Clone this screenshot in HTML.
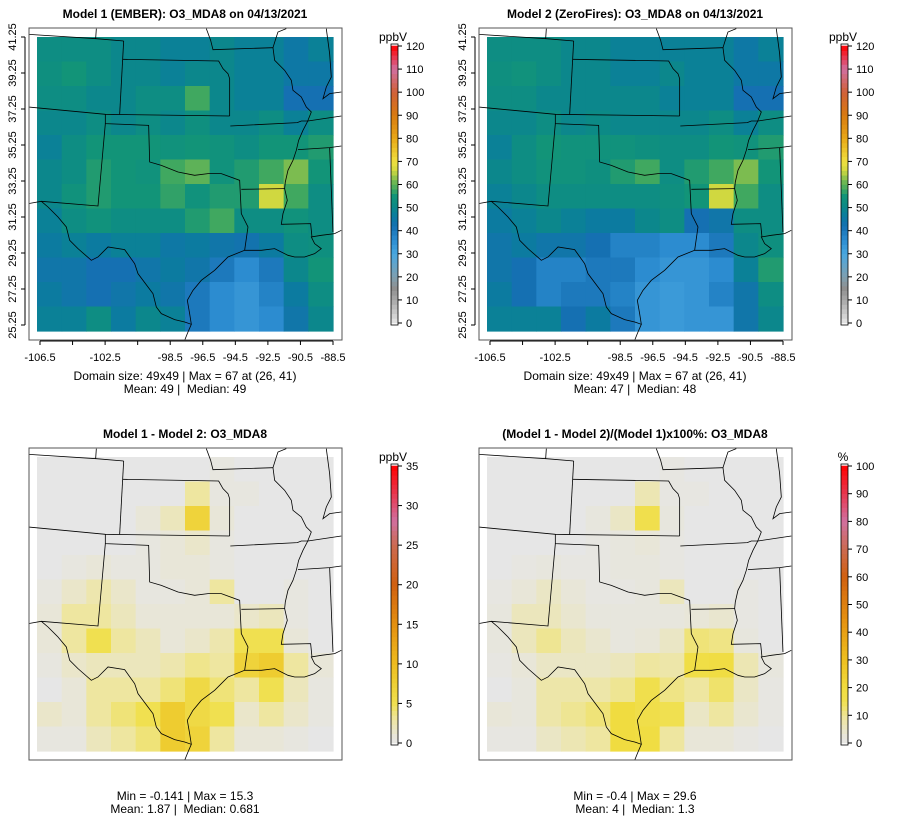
<!DOCTYPE html>
<html><head><meta charset="utf-8"><title>O3_MDA8 comparison</title>
<style>
html,body{margin:0;padding:0;background:#fff;}
svg{display:block;font-family:"Liberation Sans",Arial,sans-serif;}
text{white-space:pre;}
</style></head>
<body>
<svg id="chart" width="900" height="840" viewBox="0 0 900 840" xmlns="http://www.w3.org/2000/svg">
<defs>
<clipPath id="boxclip"><rect x="1" y="1" width="313" height="312"/></clipPath>
<g id="borders" fill="none" stroke="#000" stroke-width="2.4">
<path d="M0,22 L205,35 L287,42 M205,5 L203,35"/>
<path d="M287,42 L275,262"/>
<path d="M285,97 L572,102 L585,125 L600,140 L605,155 L605,267"/>
<path d="M535,5 L548,40 L555,68 L735,62"/>
<path d="M775,5 L750,15 L745,30 L735,62 L740,100 L770,130 L790,160 L795,190 L820,210 L835,240 L850,255 L838,285 L825,310 L812,340 L805,370 L795,400 L780,430 L772,465 L770,485 L778,520 L765,560 L760,592 L848,590 L852,630"/>
<path d="M0,240 L232,262 L605,267"/>
<path d="M232,262 L232,290 L362,295 L365,405 L400,415 L450,435 L500,445 L540,440 L580,440 L635,460 L640,560 L660,600 L650,670"/>
<path d="M232,290 L210,537 L40,523 L0,530"/>
<path d="M607,297 L808,287 L820,282 L840,282 L940,267"/>
<path d="M640,487 L770,485"/>
<path d="M810,368 L905,362 L940,357"/>
<path d="M905,362 L915,615"/>
<path d="M40,523 L60,540 L90,570 L115,600 L125,640 L150,665 L190,700 L210,690 L240,660 L290,668 L320,710 L330,740 L360,780 L375,800 L385,840 L400,860 L440,878 L470,885 L490,892 L478,920 L470,940"/>
<path d="M490,892 L485,860 L478,820 L495,790 L520,760 L560,730 L600,690 L650,670 L700,670 L740,665 L780,685 L800,690 L830,690 L860,680 L880,665 L860,650 L850,630 L880,625 L920,620 L940,610"/>
<path d="M895,5 L905,80 L910,150 L895,180 L885,215 L905,200 L940,195"/>
</g>
</defs>
</svg>
<script>
// ---- data (12 x 12 coarse grids, rows top->bottom, cols west->east) ----
const gridCols = 12;
const gridRows = 12;
const model1Values = [
[52,52,52,50,50,48,48,50,48,48,45,48],
[53,55,52,50,50,48,50,50,48,48,45,45],
[52,52,50,50,52,52,58,50,48,48,42,42],
[50,50,52,50,52,50,53,50,50,52,48,52],
[48,52,55,55,55,54,55,54,52,55,55,56],
[50,52,56,55,54,58,60,54,56,58,62,55],
[50,54,56,55,55,57,54,56,56,66,58,52],
[48,52,54,52,52,52,56,58,52,52,54,52],
[46,48,46,48,48,45,46,44,43,46,52,53],
[44,44,42,42,44,46,44,40,36,40,50,55],
[46,44,42,44,46,44,40,36,34,38,46,52],
[48,48,52,46,50,48,40,36,34,36,44,50]];
const model2Values = [
[52,52,52,50,50,48,48,48,48,48,45,48],
[53,54,52,50,50,48,48,50,48,48,45,45],
[52,52,50,50,50,50,50,48,48,48,42,42],
[50,50,52,50,51,50,50,50,50,52,48,52],
[48,52,55,54,54,54,53,52,52,55,54,56],
[50,52,54,54,53,56,58,52,56,58,62,55],
[48,50,52,52,52,52,52,53,55,66,58,52],
[46,48,50,48,46,46,50,52,42,44,52,52],
[44,46,44,44,42,38,38,36,36,40,50,53],
[44,42,38,38,40,40,36,34,34,36,48,56],
[46,42,38,40,40,38,34,33,34,38,44,52],
[48,48,48,42,46,40,34,33,34,34,44,50]];
const diffValues = [
[0,0,0,0,0,0,0,0.5,0,0,0,0],
[0,0,0,0,0,0,3,0.5,0.5,0,0,0],
[0,0,0,0,1,2,7,1,0,0,0,0],
[0,0,0,0,0.5,1,1.5,0.5,0,0,0,0],
[0,0.5,1,0.5,0.5,1,1,0.5,0,0,0,0],
[0.5,1.5,2.5,1.5,0.5,0.5,1,3,0,0,0.5,0],
[1,3,3,2,1,1,1,1,1.5,2,0.5,0],
[1,3,5,3,2,1,1.5,2.5,5,5,1,0],
[0.5,1.5,2,2,2,2.5,3.5,3,7,8,3,1],
[0,1,3,3,3,4,6,4,3,5,2,0.5],
[1.5,1,3,4,5,8,6,5,1.5,3,1.5,0.5],
[0.5,0.5,2,3,4,8,7,3,1,1,0.5,0]];
const pctValues = [
[0,0,0,0,0,0,0,1,0,0,0,0],
[0,0,0,0,0,0,7,1,1,0,0,0],
[0,0,0,0,2,5,16,2,0,0,0,0],
[0,0,0,0,1,2,3,1,0,0,0,0],
[0,1,2,1,1,2,2,1,0,0,0,0],
[1,3,5,3,1,1,2,6,0,0,1,0],
[2,6,6,4,2,2,2,2,3,4,1,0],
[2,6,10,6,4,2,3,5,12,11,2,0],
[1,3,5,5,5,6,9,8,18,19,7,2],
[0,2,8,8,8,10,16,11,9,13,5,1],
[3,2,8,10,12,20,17,15,5,9,4,1],
[1,1,5,7,9,20,19,9,3,3,1,0]];
const xTickLabels = ["-106.5","-102.5","-98.5","-96.5","-94.5","-92.5","-90.5","-88.5"];
const xTickValues = [-106.5,-102.5,-98.5,-96.5,-94.5,-92.5,-90.5,-88.5];
const xAllTicks = [-106.5,-104.5,-102.5,-100.5,-98.5,-96.5,-94.5,-92.5,-90.5,-88.5];
const yTickValues = [41.25,39.25,37.25,35.25,33.25,31.25,29.25,27.25,25.25];
const cbTicks1 = [0,10,20,30,40,50,60,70,80,90,100,110,120];
const cbTicks3 = [0,5,10,15,20,25,30,35];
const cbTicks4 = [0,10,20,30,40,50,60,70,80,90,100];

// colour stops
const stopsO3 = [[0,"#e6e6e6"],[10,"#a8a8a8"],[15,"#8e8e8e"],[20,"#7f9fb0"],[30,"#4aa8e0"],[36,"#2c8cd0"],[42,"#1570b2"],[47,"#0a7e9c"],[51,"#0c8a86"],[55,"#129478"],[58,"#40a860"],[62,"#7cbc50"],[66,"#d0d840"],[70,"#f0e040"],[80,"#e8a818"],[90,"#d87a10"],[100,"#d06038"],[110,"#d070a0"],[120,"#ff0000"]];
const stopsDiff = [[0,"#e6e6e6"],[1,"#e8e6d8"],[3,"#eee6a0"],[5,"#f0e050"],[8,"#eecc30"],[10,"#eebc20"],[15,"#e49010"],[20,"#d06010"],[25,"#cc6a50"],[28,"#d070a0"],[35,"#ff0000"]];
const stopsPct = [[0,"#e6e6e6"],[3,"#e8e6d8"],[9,"#eee6a0"],[15,"#f0e050"],[20,"#f0dc40"],[30,"#eec020"],[45,"#e49010"],[60,"#d06010"],[70,"#cc6a50"],[80,"#d070a0"],[100,"#ff0000"]];

const NS = "http://www.w3.org/2000/svg";
const svg = document.getElementById("chart");
function hex(c){return [parseInt(c.substr(1,2),16),parseInt(c.substr(3,2),16),parseInt(c.substr(5,2),16)];}
function colorFor(v, stops){
  if(v<=stops[0][0]) return stops[0][1];
  for(let i=1;i<stops.length;i++){
    if(v<=stops[i][0]){
      const a=hex(stops[i-1][1]),b=hex(stops[i][1]);
      const t=(v-stops[i-1][0])/(stops[i][0]-stops[i-1][0]);
      return "rgb("+a.map((x,k)=>Math.round(x+(b[k]-x)*t)).join(",")+")";
    }
  }
  return stops[stops.length-1][1];
}
function el(tag, attrs, parent){
  const e=document.createElementNS(NS,tag);
  for(const k in attrs) e.setAttribute(k,attrs[k]);
  (parent||svg).appendChild(e);
  return e;
}
function txt(x,y,s,size,parent,anchor,weight){
  const t=el("text",{x:x,y:y,"font-size":size,"text-anchor":anchor||"middle",fill:"#000"},parent);
  if(weight) t.setAttribute("font-weight",weight);
  t.textContent=s;
  return t;
}

const panels = [
 {ox:28, oy:27, data:model1Values, stops:stopsO3, vmax:120, ticks:cbTicks1, unit:"ppbV", title:"Model 1 (EMBER): O3_MDA8 on 04/13/2021", cap1:"Domain size: 49x49 | Max = 67 at (26, 41)", cap2:"Mean: 49 |  Median: 49", axes:true, capY:380, name:"model1"},
 {ox:478, oy:27, data:model2Values, stops:stopsO3, vmax:120, ticks:cbTicks1, unit:"ppbV", title:"Model 2 (ZeroFires): O3_MDA8 on 04/13/2021", cap1:"Domain size: 49x49 | Max = 67 at (26, 41)", cap2:"Mean: 47 |  Median: 48", axes:true, capY:380, name:"model2"},
 {ox:28, oy:447, data:diffValues, stops:stopsDiff, vmax:35, ticks:cbTicks3, unit:"ppbV", title:"Model 1 - Model 2: O3_MDA8", cap1:"Min = -0.141 | Max = 15.3", cap2:"Mean: 1.87 |  Median: 0.681", axes:false, capY:800, name:"difference"},
 {ox:478, oy:447, data:pctValues, stops:stopsPct, vmax:100, ticks:cbTicks4, unit:"%", title:"(Model 1 - Model 2)/(Model 1)x100%: O3_MDA8", cap1:"Min = -0.4 | Max = 29.6", cap2:"Mean: 4 |  Median: 1.3", axes:false, capY:800, name:"percent-difference"}
];

panels.forEach(p=>{
  const g=el("g",{transform:"translate("+p.ox+","+p.oy+")"});
  
  
  const mx=9,my=10,mw=296,mh=294;
  const cw=mw/gridCols,ch=mh/gridRows;
  const cellX=c=>mx+c*cw, cellY=r=>my+r*ch;
  const cells=el("g",{},g);
  
  
  for(let r=0;r<gridRows;r++)for(let c=0;c<gridCols;c++){
    const rc=el("rect",{x:cellX(c).toFixed(2),y:cellY(r).toFixed(2),width:(cw+0.6).toFixed(2),height:(ch+0.6).toFixed(2),fill:colorFor(p.data[r][c],p.stops)},cells);
    
    
  }
  const bg=el("g",{"clip-path":"url(#boxclip)"},g);
  const u=el("use",{href:"#borders",transform:"scale(0.3333)"},bg);
  
  
  const box=el("rect",{x:1,y:1,width:313,height:312,fill:"none",stroke:"#555","stroke-width":1},g);
  
  
  const t=txt(157,-9,p.title,12,g,"middle","bold");
  
  
  if(p.axes){
    const xScale=v=>12+(v+106.5)/18*293;
    const yScale=v=>10+(41.25-v)/16*288;
    el("line",{x1:xScale(-106.5),x2:xScale(-88.5),y1:314,y2:314,stroke:"#000"},g);
    xAllTicks.forEach(v=>el("line",{x1:xScale(v),x2:xScale(v),y1:314,y2:318,stroke:"#000"},g));
    xTickLabels.forEach((s,i)=>{
      const l=txt(xScale(xTickValues[i]),334,s,11,g);
      
      
    });
    el("line",{x1:-3,x2:-3,y1:yScale(41.25),y2:yScale(25.25),stroke:"#000"},g);
    yTickValues.forEach(v=>{
      el("line",{x1:-7,x2:-3,y1:yScale(v),y2:yScale(v),stroke:"#000"},g);
      const l=el("text",{x:0,y:0,"font-size":11,"text-anchor":"middle",transform:"translate(-12,"+yScale(v)+") rotate(-90)"},g);
      l.textContent=v.toFixed(2);
      
      
    });
  }
  const c1=txt(157,p.capY-p.oy,p.cap1,12,g);
  
  
  const c2=txt(157,p.capY-p.oy+13,p.cap2,12,g);
  
  
  // colour bar
  const bx=363,bt=17,bb=298,bw=7;
  const cb=el("g",{},g);
  
  
  const cbScale=v=>bb-2-(v/p.vmax)*(bb-bt-4);
  const nSeg=60;
  for(let i=0;i<nSeg;i++){
    const v0=i*p.vmax/nSeg, v1=(i+1)*p.vmax/nSeg;
    el("rect",{x:bx,y:cbScale(v1)-0.3,width:bw,height:(cbScale(v0)-cbScale(v1)+0.6),fill:colorFor((v0+v1)/2,p.stops)},cb);
  }
  el("rect",{x:bx,y:bt,width:bw,height:bb-bt,fill:"none",stroke:"#000","stroke-width":0.8},cb);
  p.ticks.forEach(v=>{
    el("line",{x1:bx+bw,x2:bx+bw+4,y1:cbScale(v),y2:cbScale(v),stroke:"#000"},cb);
    const l=txt(bx+bw+8,cbScale(v)+4,String(v),11,cb,"start");
    
    
  });
  const un=txt(bx+2,bt-3,p.unit,12,cb);
  
  
});
</script>
</body></html>
